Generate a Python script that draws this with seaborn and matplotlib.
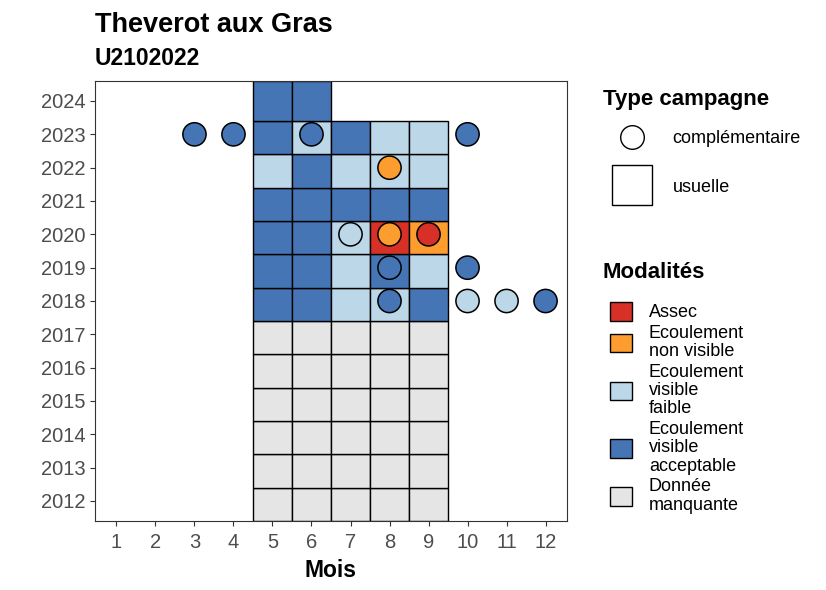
import matplotlib
matplotlib.use("Agg")
import matplotlib.pyplot as plt
from matplotlib.lines import Line2D
from matplotlib.patches import Patch
import numpy as np
import pandas as pd
import seaborn as sns

# --- data -------------------------------------------------------------
MONTHS = list(range(1, 13))
YEARS = list(range(2012, 2025))

MODALITES = ["Assec", "Ecoulement non visible", "Ecoulement visible faible",
             "Ecoulement visible acceptable", "Donnée manquante"]
MODALITE_LABELS = ["Assec", "Ecoulement\nnon visible", "Ecoulement\nvisible\nfaible",
                   "Ecoulement\nvisible\nacceptable", "Donnée\nmanquante"]
MODALITE_COLORS = ["#d73027", "#fd9c2f", "#bcd7e8", "#4575b4", "#e5e5e5"]

# short codes used below
CODES = {"A": MODALITES[0], "N": MODALITES[1], "F": MODALITES[2],
         "V": MODALITES[3], "M": MODALITES[4]}

# usual campaign (tiles): year -> code for months 5..9
usual_months = [5, 6, 7, 8, 9]
usual_obs = {
    2012: "MMMMM",
    2013: "MMMMM",
    2014: "MMMMM",
    2015: "MMMMM",
    2016: "MMMMM",
    2017: "MMMMM",
    2018: "VVFFV",
    2019: "VVFVF",
    2020: "VVFAN",
    2021: "VVVVV",
    2022: "FVFFF",
    2023: "VFVFF",
    2024: "VV",
}

# complementary campaign (points)
compl_year = [2023, 2023, 2023, 2023, 2022, 2020, 2020, 2020, 2019, 2019, 2018, 2018, 2018, 2018]
compl_month = [3, 4, 6, 10, 8, 7, 8, 9, 8, 10, 8, 10, 11, 12]
compl_code = ["V", "V", "V", "V", "N", "F", "N", "A", "V", "V", "V", "F", "F", "V"]

TITLE = "Theverot aux Gras"
SUBTITLE = "U2102022"
TYPE_LABELS = ["complémentaire", "usuelle"]

# --- frames -----------------------------------------------------------
rows = []
for year, codes in usual_obs.items():
    for month, code in zip(usual_months, codes):
        rows.append({"annee": year, "mois": month, "modalite": CODES[code]})
tiles = pd.DataFrame(rows)

points = pd.DataFrame({"annee": compl_year, "mois": compl_month,
                       "modalite": [CODES[c] for c in compl_code]})

palette = dict(zip(MODALITES, MODALITE_COLORS))

# row edges: each row sits slightly below its year tick, last row runs to the top
years = np.array(YEARS, dtype=float)
edges = np.append(years - 0.6, years[-1] + 0.6)
row_bottom = dict(zip(YEARS, edges[:-1]))
row_height = dict(zip(YEARS, np.diff(edges)))

# --- plot -------------------------------------------------------------
sns.set_theme(style="white")
plt.rcParams["font.family"] = ["Liberation Sans", "DejaVu Sans"]
plt.rcParams["text.color"] = "black"

fig = plt.figure(figsize=(8.26, 5.90), dpi=100)
ax = fig.add_axes([95 / 826, 1 - 521 / 590, 472 / 826, 440 / 590])

ax.bar(tiles["mois"], tiles["annee"].map(row_height), bottom=tiles["annee"].map(row_bottom),
       width=1.0, color=tiles["modalite"].map(palette), edgecolor="black", linewidth=1.0,
       zorder=1)

sns.scatterplot(data=points, x="mois", y="annee", hue="modalite", palette=palette,
                s=280, edgecolor="black", linewidth=1.1, legend=False, zorder=3, ax=ax)

ax.set_xlim(MONTHS[0] - 0.55, MONTHS[-1] + 0.55)
ax.set_ylim(edges[0], edges[-1])
ax.set_xticks(MONTHS)
ax.set_yticks(YEARS)
ax.set_xticklabels([str(m) for m in MONTHS])
ax.set_yticklabels([str(y) for y in YEARS])
ax.tick_params(axis="both", length=3.5, width=0.8, color="#333333", labelcolor="#4d4d4d",
               labelsize=14.5, bottom=True, left=True)
ax.tick_params(axis="x", pad=5)
ax.tick_params(axis="y", pad=3)
for spine in ax.spines.values():
    spine.set_color("#333333")
    spine.set_linewidth(0.8)
ax.set_xlabel("Mois", fontsize=16.5, fontweight="bold", color="black", labelpad=5)
ax.set_ylabel("")

fig.text(95 / 826, 1 - 32 / 590, TITLE, fontsize=19.5, fontweight="bold",
         va="baseline", ha="left", color="black")
fig.text(95 / 826, 1 - 65 / 590, SUBTITLE, fontsize=16.5, fontweight="bold",
         va="baseline", ha="left", color="black")

# legend: type campagne
fig.text(603 / 826, 1 - 99 / 590, "Type campagne", fontsize=16, fontweight="bold",
         va="center", ha="left", color="black")
type_handles = [
    Line2D([], [], marker="o", linestyle="", markersize=17, markerfacecolor="white",
           markeredgecolor="black", markeredgewidth=1.0),
    Line2D([], [], marker="s", linestyle="", markersize=29, markerfacecolor="white",
           markeredgecolor="black", markeredgewidth=1.0),
]
leg1 = fig.legend(type_handles, TYPE_LABELS, loc="upper left",
                  bbox_to_anchor=(603 / 826, 1 - 130 / 590), frameon=False,
                  fontsize=13, handlelength=3.2, handletextpad=0.65,
                  labelspacing=1.75, borderpad=0, borderaxespad=0)

# legend: modalites
fig.text(603 / 826, 1 - 272 / 590, "Modalités", fontsize=16, fontweight="bold",
         va="center", ha="left", color="black")
mod_handles = [Patch(facecolor=c, edgecolor="black", linewidth=1.0) for c in MODALITE_COLORS]
leg2 = fig.legend(mod_handles, MODALITE_LABELS, loc="upper left",
                  bbox_to_anchor=(610 / 826, 1 - 302 / 590), frameon=False,
                  fontsize=13, handlelength=1.2, handleheight=1.2, handletextpad=0.95,
                  labelspacing=0.2, borderpad=0, borderaxespad=0)
for t in leg2.get_texts():
    t.set_linespacing(1.1)

fig.savefig("out.png", dpi=100)
